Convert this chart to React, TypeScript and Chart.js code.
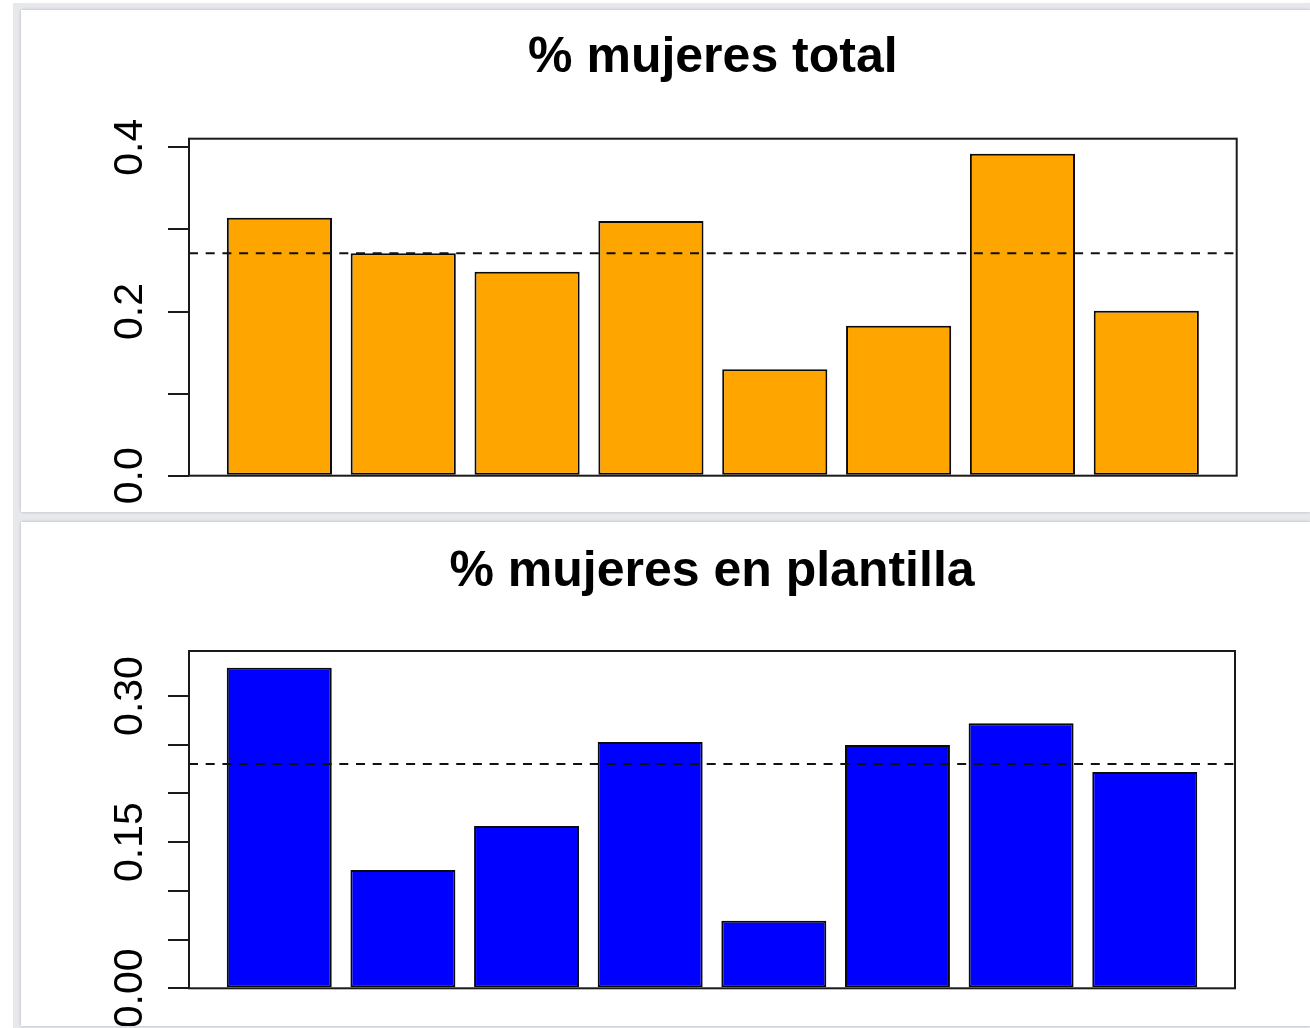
import React, { useEffect, useRef } from 'react';
import { Chart, registerables } from 'chart.js';

Chart.register(...registerables);

// ---- data ----
const categories = ['1', '2', '3', '4', '5', '6', '7', '8'];

const totalTitle = '% mujeres total';
const totalShare = [0.3143, 0.2709, 0.2485, 0.3102, 0.1296, 0.1827, 0.3922, 0.201];
const totalReference = 0.2709;
const totalTickLabels = ['0.0', '0.2', '0.4'];

const staffTitle = '% mujeres en plantilla';
const staffShare = [0.3291, 0.1214, 0.1666, 0.2528, 0.0694, 0.2497, 0.272, 0.222];
const staffReference = 0.2302;
const staffTickLabels = ['0.00', '0.15', '0.30'];

const FONT = '"Liberation Sans", Arial, Helvetica, sans-serif';

// R barplot geometry: width 1, space 0.2
const barCenter = (i: number) => 0.7 + 1.2 * i;

const rPlot = {
  id: 'rPlot',
  afterDatasetsDraw(chart: any, _args: any, o: any) {
    const { ctx, chartArea: a, scales } = chart;
    const y = scales.y;
    ctx.save();
    // reference dashed line
    const ry = y.getPixelForValue(o.reference);
    ctx.beginPath();
    ctx.setLineDash([9, 7.7]);
    ctx.lineWidth = 2;
    ctx.strokeStyle = '#111';
    ctx.moveTo(a.left, ry);
    ctx.lineTo(a.right, ry);
    ctx.stroke();
    ctx.setLineDash([]);
    // box
    ctx.strokeStyle = '#1a1a1a';
    ctx.strokeRect(a.left, a.top, a.right - a.left, a.bottom - a.top);
    // title
    ctx.fillStyle = '#000';
    ctx.font = `bold 50px ${FONT}`;
    ctx.textAlign = 'center';
    ctx.textBaseline = 'alphabetic';
    ctx.fillText(o.title, (a.left + a.right) / 2, o.titleY);
    // y tick labels (rotated, R style)
    ctx.font = `41px ${FONT}`;
    y.ticks.forEach((t: any, i: number) => {
      const label = Number(t.value).toFixed(o.decimals);
      if (!o.tickLabels.includes(label)) return;
      const py = y.getPixelForTick(i);
      ctx.save();
      ctx.translate(o.labelX, py);
      ctx.rotate(-Math.PI / 2);
      ctx.fillText(label, 0, 0);
      ctx.restore();
    });
    ctx.restore();
  },
};

type PanelProps = {
  title: string;
  values: number[];
  reference: number;
  tickLabels: string[];
  decimals: number;
  step: number;
  yMax: number;
  color: string;
  width: number;
  height: number;
  padTop: number;
  padBottom: number;
  padRight: number;
  titleY: number;
};

function BarPanel(p: PanelProps) {
  const ref = useRef<HTMLCanvasElement | null>(null);
  useEffect(() => {
    if (!ref.current) return;
    const positions = categories.map((_, i) => barCenter(i));
    const chart = new Chart(ref.current, {
      type: 'bar',
      data: {
        labels: categories,
        datasets: [
          {
            data: p.values.map((v, i) => ({ x: positions[i], y: v })) as any,
            backgroundColor: p.color,
            borderColor: '#0a0a0a',
            borderWidth: 2,
            borderSkipped: false,
            barPercentage: 0.849,
            categoryPercentage: 1,
          },
        ],
      },
      options: {
        responsive: false,
        animation: false,
        layout: { padding: { top: p.padTop, bottom: p.padBottom, right: p.padRight, left: 0 } },
        plugins: {
          legend: { display: false },
          tooltip: { enabled: false },
          title: { display: false },
          rPlot: {
            title: p.title,
            reference: p.reference,
            tickLabels: p.tickLabels,
            decimals: p.decimals,
            titleY: p.titleY,
            labelX: 121,
          },
        } as any,
        scales: {
          x: {
            type: 'linear',
            display: false,
            offset: false,
            min: -0.176,
            max: 9.976,
            afterBuildTicks: (s: any) => {
              s.ticks = positions.map((v) => ({ value: v }));
            },
          },
          y: {
            type: 'linear',
            min: 0,
            max: p.yMax,
            afterFit: (s: any) => {
              s.width = 168;
            },
            border: { display: false },
            grid: {
              drawOnChartArea: false,
              drawTicks: true,
              tickLength: 21,
              color: '#1a1a1a',
              lineWidth: 2,
            },
            ticks: { display: false, stepSize: p.step, includeBounds: false },
          },
        },
      } as any,
      plugins: [rPlot],
    });
    return () => chart.destroy();
  }, []);
  return <canvas ref={ref} width={p.width} height={p.height} style={{ display: 'block' }} />;
}

export default function App() {
  const panel: React.CSSProperties = {
    position: 'absolute',
    left: 8,
    background: '#fff',
    boxShadow: '0 0 3px rgba(0,0,0,0.22)',
  };
  return (
    <div style={{ position: 'absolute', left: 0, top: 0, width: 1310, height: 1028, background: '#fff', overflow: 'hidden' }}>
      <div style={{ position: 'absolute', left: 13, top: 3, width: 1297, height: 1025, background: '#e6e8eb' }}>
        <div style={{ ...panel, top: 7, width: 1289, height: 502 }}>
          <BarPanel
            title={totalTitle}
            values={totalShare}
            reference={totalReference}
            tickLabels={totalTickLabels}
            decimals={1}
            step={0.1}
            yMax={0.4105}
            color="#FFA500"
            width={1289}
            height={502}
            padTop={128.7}
            padBottom={36.3}
            padRight={73.3}
            titleY={62}
          />
        </div>
        <div style={{ ...panel, top: 519, width: 1289, height: 504 }}>
          <BarPanel
            title={staffTitle}
            values={staffShare}
            reference={staffReference}
            tickLabels={staffTickLabels}
            decimals={2}
            step={0.05}
            yMax={0.3462}
            color="#0000FF"
            width={1289}
            height={504}
            padTop={129}
            padBottom={37.7}
            padRight={75}
            titleY={64}
          />
        </div>
      </div>
    </div>
  );
}
